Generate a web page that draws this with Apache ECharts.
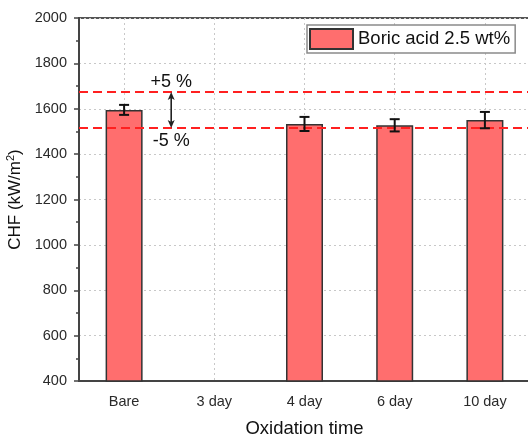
<!DOCTYPE html>
<html><head><meta charset="utf-8">
<script src="https://cdn.jsdelivr.net/npm/echarts@6/dist/echarts.min.js"></script>
<style>html,body{margin:0;padding:0;background:#fff}#c{width:528px;height:437px}</style>
</head><body><div id="c"></div>
<script>
const categories = ['Bare', '3 day', '4 day', '6 day', '10 day'];
const chf = [1595, null, 1533, 1527, 1550];
const chfErr = [22, null, 31, 27, 36];
const bandLimits = [1674, 1515];
const bandLabels = ['+5 %', '-5 %'];
const seriesName = 'Boric acid 2.5 wt%';
const yMin = 400, yMax = 2000, yStep = 200;

const FONT = '"Liberation Sans", Arial, sans-serif';
const errData = [];
categories.forEach((c, i) => {
  if (chf[i] != null) errData.push([i, chf[i] - chfErr[i], chf[i] + chfErr[i]]);
});

const chart = echarts.init(document.getElementById('c'), null, {renderer: 'canvas'});
const gridLine = {show: true, lineStyle: {color: '#c8c8c8', type: [2, 3], width: 1}};
chart.setOption({
  animation: false,
  textStyle: {fontFamily: FONT},
  grid: {left: 79, top: 18, width: 451, height: 363, show: true, borderColor: '#555', borderWidth: 2,
    containLabel: false, outerBoundsMode: 'none'},
  legend: {
    data: [seriesName], left: 307, top: 25, padding: [3, 5, 3, 2],
    itemWidth: 43, itemHeight: 20, itemGap: 5,
    borderColor: '#8a8a8a', borderWidth: 1.5, backgroundColor: '#fff',
    textStyle: {fontSize: 18.5, color: '#111', fontFamily: FONT}, icon: 'rect'
  },
  xAxis: [{
    type: 'category', data: categories, position: 'bottom',
    name: 'Oxidation time', nameLocation: 'middle', nameGap: 38,
    nameTextStyle: {fontSize: 18.5, color: '#111', fontFamily: FONT},
    axisLine: {lineStyle: {color: '#444', width: 2}},
    axisTick: {alignWithLabel: true, length: 5, lineStyle: {color: '#444', width: 1.5}},
    axisLabel: {fontSize: 14.5, color: '#2a2a2a', margin: 13, fontFamily: FONT},
    splitLine: Object.assign({alignWithLabel: true}, gridLine)
  }, {
    type: 'category', data: categories, position: 'bottom', gridIndex: 0,
    axisLine: {show: false},
    axisTick: {length: 3, lineStyle: {color: '#444', width: 1.5}},
    axisLabel: {show: false}, splitLine: {show: false}
  }],
  yAxis: {
    type: 'value', min: yMin, max: yMax, interval: yStep,
    name: 'CHF (kW/m{sup|2})', nameLocation: 'middle', nameGap: 50,
    nameTextStyle: {fontSize: 17, color: '#111', fontFamily: FONT,
      rich: {sup: {fontSize: 11, verticalAlign: 'top', color: '#111', fontFamily: FONT, padding: [0, 0, 8, 0]}}},
    axisLine: {show: true, lineStyle: {color: '#444', width: 2}},
    axisTick: {show: true, length: 5, lineStyle: {color: '#444', width: 1.5}},
    minorTick: {show: true, splitNumber: 2, length: 3, lineStyle: {color: '#444', width: 1.5}},
    axisLabel: {fontSize: 14.5, color: '#2a2a2a', margin: 12, fontFamily: FONT, formatter: v => String(v)},
    splitLine: gridLine
  },
  series: [{
    name: seriesName, type: 'bar', data: chf, barWidth: 37, xAxisIndex: 0,
    itemStyle: {color: '#ff6e6e', borderColor: '#333', borderWidth: 1.5},
    markLine: {
      silent: true, symbol: 'none', label: {show: false},
      lineStyle: {color: '#ff2020', type: [9, 5], width: 2},
      data: bandLimits.map(v => ({yAxis: v}))
    }
  }, {
    type: 'custom', xAxisIndex: 0, data: errData, z: 5,
    renderItem(params, api) {
      const x = api.coord([api.value(0), api.value(1)])[0];
      const lo = api.coord([api.value(0), api.value(1)])[1];
      const hi = api.coord([api.value(0), api.value(2)])[1];
      const hw = 5;
      const style = {stroke: '#111', lineWidth: 2};
      return {type: 'group', children: [
        {type: 'line', shape: {x1: x, y1: hi, x2: x, y2: lo}, style},
        {type: 'line', shape: {x1: x - hw, y1: hi, x2: x + hw, y2: hi}, style},
        {type: 'line', shape: {x1: x - hw, y1: lo, x2: x + hw, y2: lo}, style}
      ]};
    }
  }, {
    type: 'custom', xAxisIndex: 0, data: [[0, bandLimits[0], bandLimits[1]]], z: 6,
    renderItem(params, api) {
      const x0 = api.coord([0, api.value(1)])[0];
      const x1 = api.coord([1, api.value(1)])[0];
      const x = (x0 + x1) / 2 + 2;
      const top = api.coord([0, api.value(1)])[1];
      const bot = api.coord([0, api.value(2)])[1];
      const ah = 8, aw = 3.5;
      return {type: 'group', children: [
        {type: 'line', shape: {x1: x, y1: top + 3, x2: x, y2: bot - 3}, style: {stroke: '#222', lineWidth: 1.6}},
        {type: 'polygon', shape: {points: [[x, top], [x - aw, top + ah], [x, top + ah - 2], [x + aw, top + ah]]}, style: {fill: '#222'}},
        {type: 'polygon', shape: {points: [[x, bot], [x - aw, bot - ah], [x, bot - ah + 2], [x + aw, bot - ah]]}, style: {fill: '#222'}},
        {type: 'text', style: {text: bandLabels[0], x: x, y: top - 10, align: 'center', verticalAlign: 'middle', fontSize: 18, fill: '#111', fontFamily: FONT}},
        {type: 'text', style: {text: bandLabels[1], x: x, y: bot + 13, align: 'center', verticalAlign: 'middle', fontSize: 18, fill: '#111', fontFamily: FONT}}
      ]};
    }
  }]
});
</script>
</body></html>
